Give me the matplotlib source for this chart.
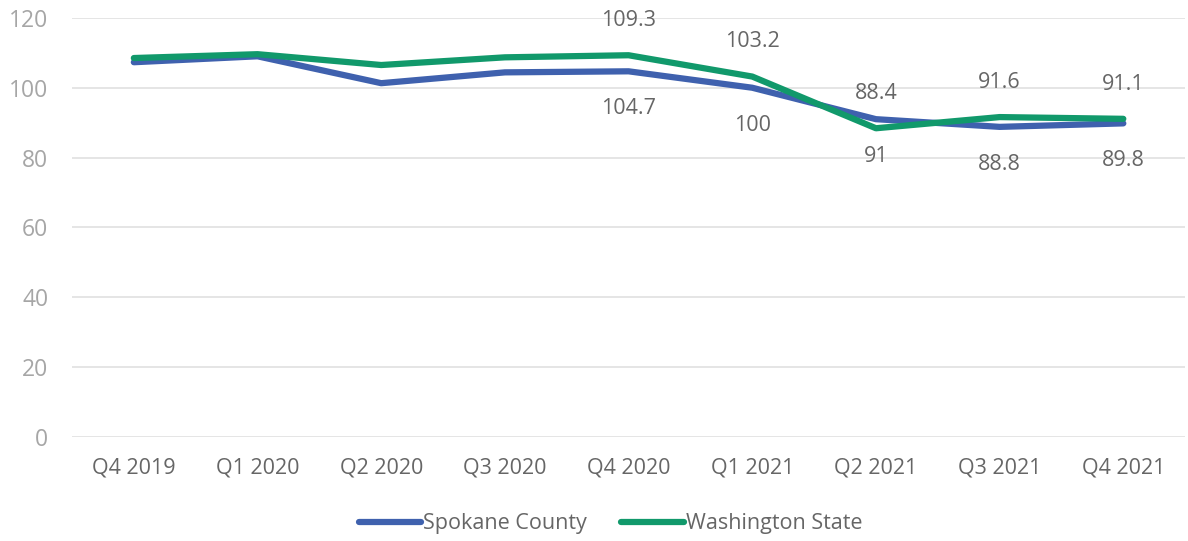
import matplotlib.pyplot as plt

quarters = ["Q4 2019", "Q1 2020", "Q2 2020", "Q3 2020", "Q4 2020",
            "Q1 2021", "Q2 2021", "Q3 2021", "Q4 2021"]
spokane = [107.3, 109.0, 101.3, 104.4, 104.7, 100, 91, 88.8, 89.8]
washington = [108.5, 109.6, 106.5, 108.7, 109.3, 103.2, 88.4, 91.6, 91.1]
# data labels shown only for the last five quarters
labeled = [4, 5, 6, 7, 8]

blue = "#3F61AE"
green = "#11996B"

plt.rcParams['font.family'] = ['Open Sans', 'DejaVu Sans']

fig = plt.figure(figsize=(11.88, 5.41), dpi=100)
ax = fig.add_axes([0.0606, 0.192, 0.937, 0.775])

x = list(range(len(quarters)))
ax.plot(x, spokane, color=blue, lw=4.5, solid_capstyle="round", label="Spokane County")
ax.plot(x, washington, color=green, lw=4.5, solid_capstyle="round", label="Washington State")

for i in labeled:
    ax.annotate(f"{spokane[i]:g}", (i, spokane[i]), xytext=(0, -27), textcoords="offset points",
                ha="center", va="center", fontsize=15.5, color="#666666")
    ax.annotate(f"{washington[i]:g}", (i, washington[i]), xytext=(0, 25), textcoords="offset points",
                ha="center", va="center", fontsize=15.5, color="#666666")

ax.set_xlim(-0.5, len(quarters) - 0.5)
ax.set_ylim(0, 120)
ax.set_yticks(range(0, 121, 20))
ax.set_xticks(x)
ax.set_xticklabels(quarters)
ax.grid(axis="y", color="#E3E3E3", lw=1.3)
ax.set_axisbelow(True)
for s in ax.spines.values():
    s.set_visible(False)
ax.tick_params(axis="y", length=0, pad=17, labelsize=16.5, labelcolor="#A6A6A6")
ax.tick_params(axis="x", length=0, pad=15, labelsize=15.5, labelcolor="#666666")

fig.legend(loc="center", bbox_to_anchor=(0.514, 0.032), ncol=2, frameon=False,
           fontsize=15.5, handlelength=2.9, handletextpad=0.1, columnspacing=1.6,
           labelcolor="#666666")

fig.savefig("out.png", dpi=100)
